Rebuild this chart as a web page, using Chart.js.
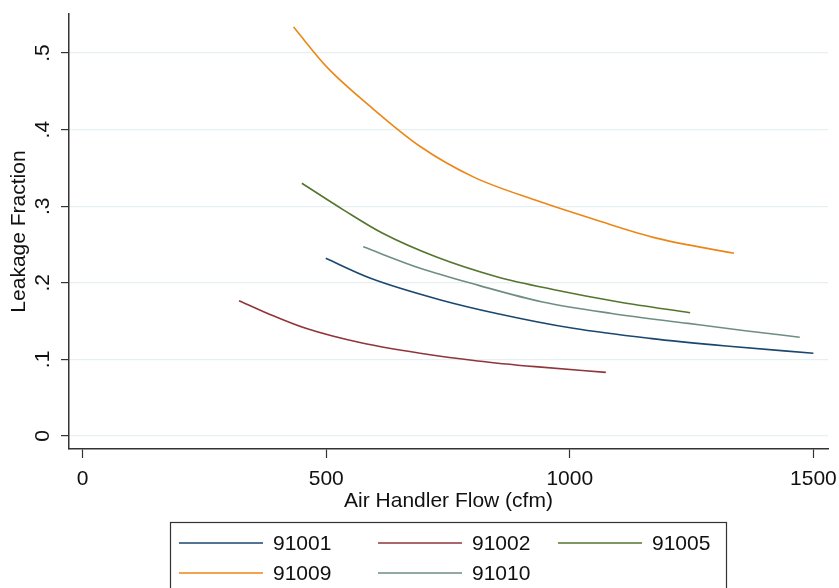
<!doctype html>
<html lang="en">
  <head>
    <meta charset="UTF-8" />
    <title>Leakage Fraction vs Air Handler Flow</title>
    <script src="https://cdn.jsdelivr.net/npm/chart.js"></script>
    <style>
      html, body { margin: 0; padding: 0; background: #fff; }
      canvas { display: block; }
    </style>
  </head>
  <body>
    <canvas id="leakChart" width="839" height="588"></canvas>

    <script>
      // values (cfm, fraction)
      const labels = ["91001", "91002", "91005", "91009", "91010"];
      const colors = ["#1a476f", "#90353b", "#55752f", "#ec8616", "#6e8e84"];

      const flow91001 = [499, 591, 733, 850, 1007, 1164, 1321, 1500];
      const leak91001 = [0.232, 0.206, 0.178, 0.16, 0.1406, 0.1275, 0.1175, 0.108];

      const flow91002 = [321, 380, 458, 576, 693, 811, 929, 1074];
      const leak91002 = [0.1767, 0.16, 0.1406, 0.121, 0.108, 0.098, 0.0905, 0.083];

      const flow91005 = [450, 536, 615, 725, 850, 968, 1101, 1247];
      const leak91005 = [0.33, 0.295, 0.265, 0.234, 0.208, 0.191, 0.175, 0.161];

      const flow91009 = [433, 501, 591, 693, 803, 929, 1054, 1180, 1337];
      const leak91009 = [0.534, 0.482, 0.43, 0.378, 0.338, 0.308, 0.282, 0.258, 0.2385];

      const flow91010 = [576, 693, 811, 944, 1086, 1243, 1360, 1472];
      const leak91010 = [0.247, 0.219, 0.197, 0.175, 0.16, 0.147, 0.1375, 0.129];

      const xTicks = [0, 500, 1000, 1500];
      const yTicks = [0, 0.1, 0.2, 0.3, 0.4, 0.5];

      const flows = [flow91001, flow91002, flow91005, flow91009, flow91010];
      const leaks = [leak91001, leak91002, leak91005, leak91009, leak91010];

      const font = "'Liberation Sans', Arial, sans-serif";

      function toPoints(xs, ys) {
        return xs.map((x, i) => ({ x: x, y: ys[i] }));
      }

      // boxed legend, 3 columns like the stata one
      const boxLegend = {
        id: "boxLegend",
        afterDraw(chart) {
          const ctx = chart.ctx;
          const colX = [179, 378, 558];
          const rowY = [543, 573];
          ctx.save();
          ctx.strokeStyle = "#333";
          ctx.lineWidth = 1.2;
          ctx.strokeRect(170.5, 522.5, 556, 80);
          ctx.font = "21px " + font;
          ctx.textBaseline = "middle";
          ctx.textAlign = "left";
          chart.data.datasets.forEach((ds, i) => {
            const x = colX[i % 3];
            const y = rowY[Math.floor(i / 3)];
            ctx.strokeStyle = ds.borderColor;
            ctx.lineWidth = 1.6;
            ctx.beginPath();
            ctx.moveTo(x, y);
            ctx.lineTo(x + 84, y);
            ctx.stroke();
            ctx.fillStyle = "#111";
            ctx.fillText(ds.label, x + 94, y + 1);
          });
          ctx.restore();
        },
      };

      const ctx = document.getElementById("leakChart").getContext("2d");

      new Chart(ctx, {
        type: "scatter",
        data: {
          datasets: labels.map((name, i) => ({
            label: name,
            data: toPoints(flows[i], leaks[i]),
            showLine: true,
            borderColor: colors[i],
            backgroundColor: colors[i],
            borderWidth: 1.6,
            pointRadius: 0,
            cubicInterpolationMode: "monotone",
          })),
        },
        options: {
          responsive: false,
          animation: false,
          layout: { padding: { top: 14, right: 11, bottom: 74, left: 0 } },
          plugins: {
            legend: { display: false },
            tooltip: { enabled: false },
          },
          scales: {
            x: {
              type: "linear",
              min: -28,
              max: 1530,
              afterBuildTicks: (axis) => {
                axis.ticks = xTicks.map((v) => ({ value: v }));
              },
              afterFit: (axis) => {
                axis.height = 65;
                axis.paddingLeft = 0;
                axis.paddingRight = 0;
              },
              grid: {
                drawOnChartArea: false,
                tickLength: 9,
                tickColor: "#333",
                tickWidth: 1.2,
              },
              border: { color: "#333", width: 1.5 },
              ticks: {
                color: "#111",
                padding: 9,
                maxRotation: 0,
                font: { family: font, size: 21 },
                callback: (v) => String(v),
              },
              title: {
                display: true,
                text: "Air Handler Flow (cfm)",
                color: "#111",
                padding: { top: 0, bottom: 0 },
                font: { family: font, size: 21 },
              },
            },
            y: {
              type: "linear",
              min: -0.017,
              max: 0.551,
              afterBuildTicks: (axis) => {
                axis.ticks = yTicks.map((v) => ({ value: v }));
              },
              afterFit: (axis) => {
                axis.width = 69;
                axis.paddingTop = 0;
                axis.paddingBottom = 0;
              },
              grid: {
                color: "#e6eff1",
                lineWidth: 1.2,
                tickLength: 8,
                tickColor: "#333",
                tickWidth: 1.2,
              },
              border: { color: "#333", width: 1.5 },
              ticks: {
                color: "#111",
                padding: 9,
                minRotation: 90,
                maxRotation: 90,
                crossAlign: "center",
                font: { family: font, size: 21 },
                callback: (v) => (v === 0 ? "0" : String(Math.round(v * 10) / 10).replace(/^0/, "")),
              },
              title: {
                display: true,
                text: "Leakage Fraction",
                color: "#111",
                padding: { top: 7, bottom: 0 },
                font: { family: font, size: 21 },
              },
            },
          },
        },
        plugins: [boxLegend],
      });
    </script>
  </body>
</html>
